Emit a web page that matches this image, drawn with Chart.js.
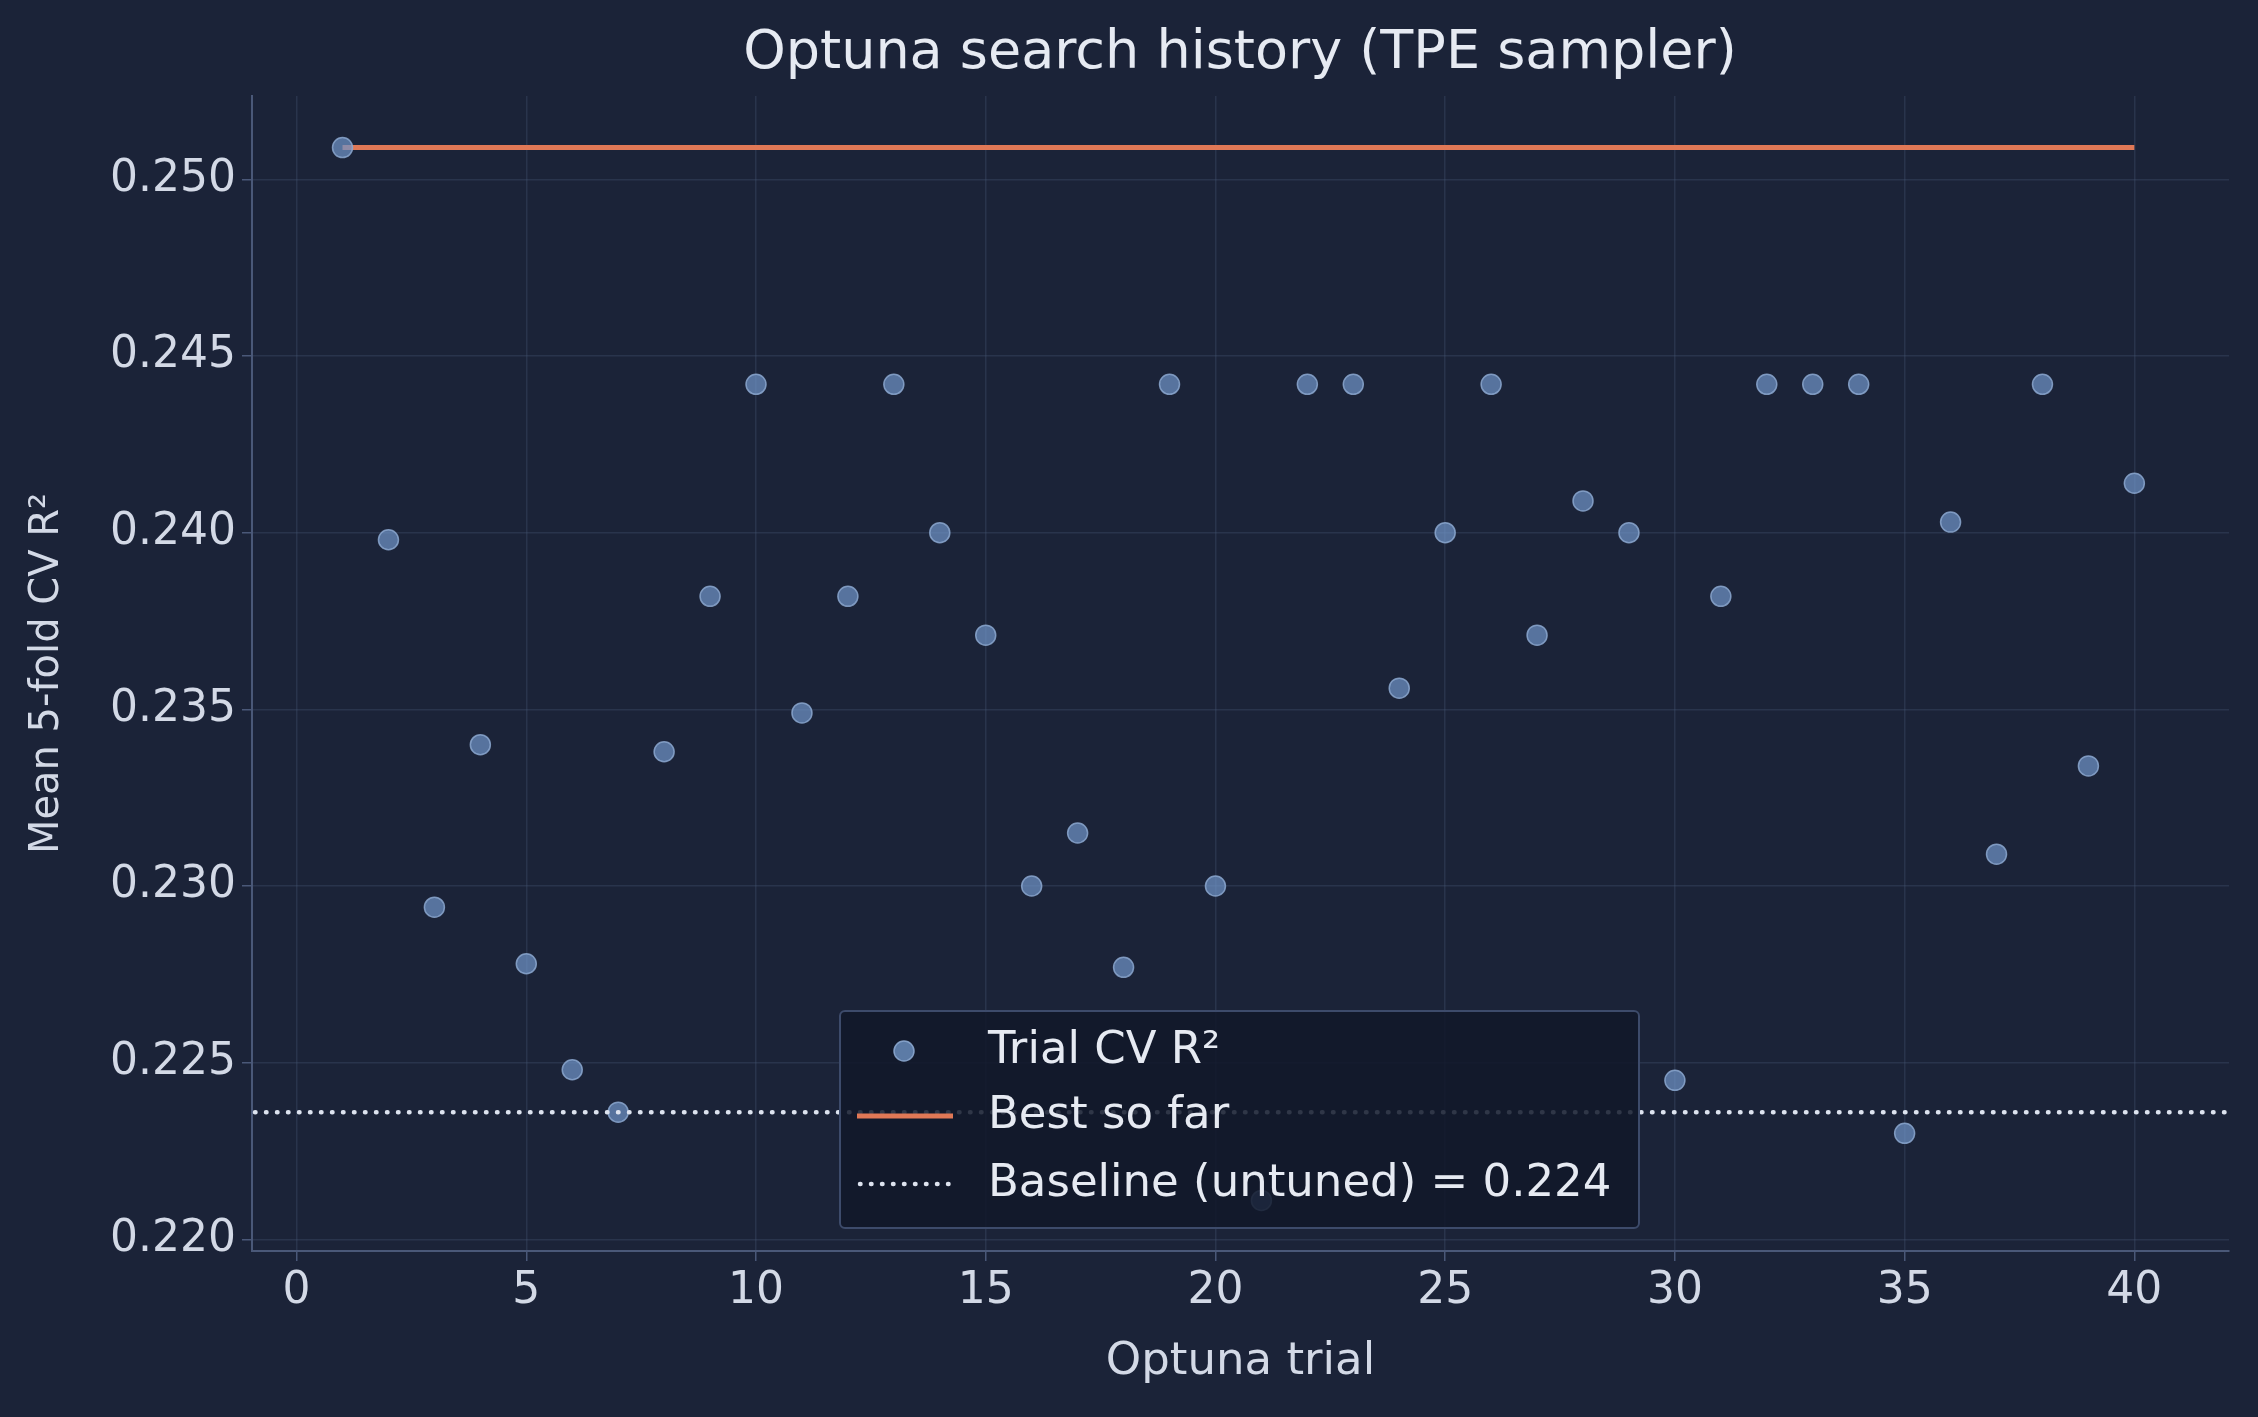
<!DOCTYPE html>
<html><head><meta charset="utf-8">
<script src="https://cdn.jsdelivr.net/npm/chart.js@4/dist/chart.umd.min.js"></script>
<style>html,body{margin:0;padding:0;background:#1b2338;}canvas{display:block}</style>
</head><body>
<div style="width:2258px;height:1417px"><canvas id="c" width="2258" height="1417"></canvas></div>
<script>
const trials = Array.from({length:40},(_,i)=>i+1);
const trialR2 = [0.2509,0.2398,0.2294,0.2340,0.2278,0.2248,0.2236,0.2338,0.2382,0.2442,
0.2349,0.2382,0.2442,0.2400,0.2371,0.2300,0.2315,0.2277,0.2442,0.2300,
0.2211,0.2442,0.2442,0.2356,0.2400,0.2442,0.2371,0.2409,0.2400,0.2245,
0.2382,0.2442,0.2442,0.2442,0.2230,0.2403,0.2309,0.2442,0.2334,0.2414];
const bestSoFar = trialR2.map((v,i)=>Math.max(...trialR2.slice(0,i+1)));
const baseline = 0.2236;
const xTickValues = [0,5,10,15,20,25,30,35,40];
const yTickValues = [0.220,0.225,0.230,0.235,0.240,0.245,0.250];
const FONT = "'DejaVu Sans', sans-serif";
const TXT = '#d3d9e6';

const extras = {
  id:'extras',
  beforeDraw(c){
    const ctx=c.ctx; ctx.save(); ctx.fillStyle='#1b2338'; ctx.fillRect(0,0,c.width,c.height); ctx.restore();
  },
  afterDatasetsDraw(c){
    const ctx=c.ctx, ca=c.chartArea, y=c.scales.y;
    ctx.save();
    ctx.strokeStyle='#dde3ef'; ctx.lineWidth=4.5; ctx.lineCap='round'; ctx.setLineDash([0.5,10.5]);
    ctx.beginPath(); ctx.moveTo(ca.left+3,y.getPixelForValue(baseline)); ctx.lineTo(ca.right,y.getPixelForValue(baseline)); ctx.stroke();
    ctx.setLineDash([]); ctx.lineCap='butt';
    ctx.fillStyle='#e6eaf2'; ctx.font='54px '+FONT; ctx.textAlign='center'; ctx.textBaseline='middle';
    ctx.fillText('Optuna search history (TPE sampler)', 1240, 54);
    const lx=840, ly=1011, lw=799, lh=217;
    ctx.fillStyle='rgba(17,23,41,0.85)'; ctx.strokeStyle='#3d4b6b'; ctx.lineWidth=2;
    ctx.beginPath(); ctx.roundRect(lx,ly,lw,lh,5); ctx.fill(); ctx.stroke();
    ctx.font='45px '+FONT; ctx.textAlign='left';
    const rows=[1051,1116,1184];
    ctx.fillStyle='rgba(111,147,198,0.8)'; ctx.strokeStyle='rgba(140,168,208,0.9)'; ctx.lineWidth=1.5;
    ctx.beginPath(); ctx.arc(904,rows[0],10,0,Math.PI*2); ctx.fill(); ctx.stroke();
    ctx.strokeStyle='#e07856'; ctx.lineWidth=5;
    ctx.beginPath(); ctx.moveTo(857,rows[1]); ctx.lineTo(953,rows[1]); ctx.stroke();
    ctx.strokeStyle='#dde3ef'; ctx.lineWidth=4.5; ctx.lineCap='round'; ctx.setLineDash([0.5,10.5]);
    ctx.beginPath(); ctx.moveTo(860,rows[2]); ctx.lineTo(953,rows[2]); ctx.stroke(); ctx.setLineDash([]);
    ctx.fillStyle='#e6eaf2';
    ctx.fillText('Trial CV R²',988,rows[0]);
    ctx.fillText('Best so far',988,rows[1]);
    ctx.fillText('Baseline (untuned) = 0.224',988,rows[2]);
    ctx.restore();
  }
};

new Chart(document.getElementById('c'),{
  data:{labels:trials,datasets:[
    {type:'line',label:'Best so far',data:trials.map((t,i)=>({x:t,y:bestSoFar[i]})),borderColor:'#e07856',borderWidth:5,pointRadius:0,order:2},
    {type:'scatter',label:'Trial CV R²',data:trials.map((t,i)=>({x:t,y:trialR2[i]})),backgroundColor:'rgba(111,147,198,0.72)',borderColor:'rgba(140,168,208,0.85)',borderWidth:1.5,pointRadius:10,order:1}
  ]},
  options:{
    responsive:false,animation:false,devicePixelRatio:1,
    layout:{padding:{top:96,right:29,left:0,bottom:0}},
    plugins:{legend:{display:false},tooltip:{enabled:false}},
    scales:{
      x:{type:'linear',min:-0.97,max:42.06,
        afterFit:s=>{s.height=166;},
        border:{color:'#4a5878',width:2},
        grid:{color:'rgba(70,85,115,0.35)',lineWidth:1.5,tickLength:10,tickColor:'#4a5878'},
        afterBuildTicks:s=>{s.ticks=xTickValues.map(v=>({value:v}));},
        ticks:{color:TXT,font:{size:44,family:FONT},padding:4,callback:v=>String(v)},
        title:{display:true,text:'Optuna trial',color:TXT,font:{size:45,family:FONT},padding:{top:0,bottom:28}}},
      y:{min:0.21967,max:0.25236,
        afterFit:s=>{s.width=252;},
        border:{color:'#4a5878',width:2},
        grid:{color:'rgba(70,85,115,0.35)',lineWidth:1.5,tickLength:10,tickColor:'#4a5878'},
        afterBuildTicks:s=>{s.ticks=yTickValues.map(v=>({value:v}));},
        ticks:{color:TXT,font:{size:44,family:FONT},padding:6,callback:v=>v.toFixed(3)},
        title:{display:true,text:'Mean 5-fold CV R²',color:TXT,font:{size:40,family:FONT},padding:{top:24,bottom:0}}}
    }
  },
  plugins:[extras]
});
</script>
</body></html>
